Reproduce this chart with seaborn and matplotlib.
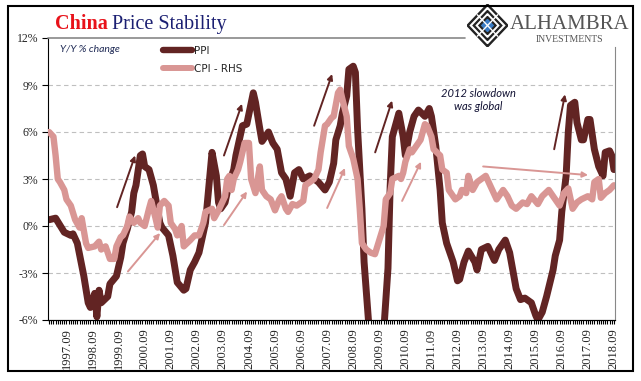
import matplotlib
matplotlib.use("Agg")
import matplotlib.pyplot as plt
from matplotlib.lines import Line2D
from matplotlib.patches import Rectangle, Polygon
from matplotlib.ticker import FixedLocator
import seaborn as sns

# months counted from 1997-01 (0) to 2018-09 (260), values in Y/Y %
ppi_month = [0, 3, 7, 10, 11, 13, 16, 18, 19, 21, 22, 23, 24, 27, 28, 31, 33, 34, 36, 38,
             39, 40, 42, 43, 44, 46, 48, 51, 52, 55, 57, 59, 62, 63, 65, 67, 69, 72, 74, 75,
             77, 78, 79, 81, 83, 85, 86, 89, 91, 94, 95, 97, 98, 101, 103, 105, 107, 109, 111, 113,
             115, 117, 120, 122, 124, 127, 129, 131, 132, 134, 135, 137, 138, 140, 141, 142, 144, 145, 147, 150,
             152, 154, 156, 157, 158, 161, 163, 164, 166, 168, 170, 173, 175, 176, 178, 180, 181, 183, 186, 188,
             189, 191, 193, 196, 197, 199, 202, 205, 207, 210, 212, 215, 217, 219, 222, 224, 225, 227, 229, 232,
             233, 235, 236, 238, 239, 240, 242, 243, 245, 246, 248, 249, 251, 253, 255, 256, 258, 259, 260]
ppi_value = [0.4, 0.5, -0.4, -0.6, -0.5, -1.1, -3.2, -4.9, -5.2, -4.3, -5.8, -4.1, -4.9, -4.5, -3.7, -3.2, -2.0, -1.1, -0.2, 0.9,
             2.1, 2.6, 4.5, 4.6, 3.8, 3.6, 2.6, 0.2, -0.1, -0.6, -1.9, -3.6, -4.1, -4.0, -2.8, -2.3, -1.7, 0.2, 3.2, 4.7,
             3.2, 1.5, 1.1, 1.5, 2.8, 3.6, 4.5, 6.4, 6.5, 8.5, 7.9, 6.2, 5.4, 6.0, 5.3, 4.9, 3.4, 3.0, 1.9, 3.4,
             3.6, 3.0, 3.2, 3.0, 2.8, 2.3, 2.8, 4.0, 5.5, 6.4, 7.2, 8.3, 10.0, 10.2, 9.8, 6.2, 1.1, -2.3, -6.0, -8.0,
             -7.8, -6.8, -2.7, 2.5, 5.7, 7.2, 5.7, 4.5, 6.0, 7.0, 7.4, 7.0, 7.5, 7.0, 5.1, 2.3, 0.2, -1.1, -2.3, -3.5,
             -3.4, -2.3, -1.6, -2.3, -2.8, -1.5, -1.3, -2.2, -1.5, -0.9, -1.7, -4.0, -4.7, -4.6, -4.9, -5.7, -6.0, -5.5, -4.5, -2.8,
             -1.9, -0.9, 0.9, 3.2, 6.0, 7.7, 7.9, 6.6, 5.5, 5.5, 6.8, 6.8, 4.9, 3.8, 3.2, 4.7, 4.8, 4.5, 3.6]

cpi_month = [0, 2, 3, 4, 5, 7, 8, 10, 12, 14, 15, 17, 18, 21, 23, 24, 26, 28, 30, 31,
             33, 34, 36, 37, 39, 41, 42, 44, 46, 47, 49, 50, 51, 53, 55, 56, 58, 59, 61, 62,
             65, 67, 69, 71, 72, 75, 76, 78, 79, 81, 82, 83, 84, 85, 87, 88, 90, 92, 93, 95,
             97, 98, 100, 102, 104, 106, 107, 109, 110, 112, 114, 117, 118, 120, 122, 124, 125, 127, 128, 130,
             131, 133, 134, 135, 137, 138, 140, 142, 143, 144, 146, 148, 150, 152, 154, 155, 157, 158, 161, 162,
             163, 164, 166, 167, 170, 171, 173, 174, 176, 177, 180, 181, 183, 184, 186, 187, 189, 190, 192, 193,
             195, 197, 199, 201, 203, 204, 206, 209, 211, 213, 215, 218, 220, 222, 225, 227, 230, 232, 235, 237,
             239, 241, 243, 245, 248, 250, 251, 253, 254, 256, 258, 260]
cpi_value = [6.0, 5.7, 4.5, 3.0, 2.8, 2.3, 1.7, 1.3, 0.4, -0.1, 0.5, -1.1, -1.4, -1.3, -1.0, -1.5, -1.3, -2.1, -2.1, -1.3,
             -0.7, -0.6, 0.0, 0.6, 0.2, 0.5, 0.2, 0.0, 1.1, 1.6, 0.5, -0.1, 1.3, 1.6, 1.3, 0.2, -0.2, -0.6, 0.0, -1.3,
             -0.9, -0.6, -0.6, 0.2, 0.9, 1.1, 0.5, 1.0, 1.3, 1.9, 3.0, 3.2, 2.3, 3.0, 3.6, 4.1, 5.3, 5.3, 3.0, 2.1,
             3.8, 2.3, 1.9, 1.7, 1.0, 1.7, 1.9, 1.1, 0.9, 1.4, 1.3, 1.6, 2.6, 2.8, 3.0, 3.6, 4.7, 6.4, 6.5, 6.9,
             7.0, 8.5, 8.7, 8.1, 7.0, 5.1, 4.3, 3.0, 1.1, -1.1, -1.5, -1.7, -1.8, -0.9, 0.0, 1.7, 2.1, 3.0, 3.2, 3.0,
             3.4, 4.1, 4.9, 4.7, 5.3, 5.5, 6.5, 6.4, 5.7, 4.9, 4.5, 3.6, 3.4, 2.3, 1.9, 1.7, 1.9, 2.3, 2.1, 3.2,
             2.3, 2.8, 3.0, 3.2, 2.6, 2.3, 1.7, 2.3, 1.9, 1.3, 1.1, 1.5, 1.4, 1.9, 1.4, 1.9, 2.3, 1.9, 1.3, 2.1,
             2.4, 1.1, 1.5, 1.7, 1.9, 1.7, 2.8, 3.0, 1.8, 2.1, 2.3, 2.6]

label_years = list(range(1997, 2019))
x_labels = [f"{y}.09" for y in label_years]
y_ticks = [12, 9, 6, 3, 0, -3, -6]

# annotation arrows: (start month, start value, end month, end value)
dark_arrows = [(31.3, 1.2, 39.6, 4.5), (80.5, 4.5, 88.8, 7.8), (122, 6.4, 130.3, 9.7),
               (150.1, 4.7, 157.9, 8.0), (232.5, 4.9, 237.5, 8.4)]
pink_arrows = [(36.3, -2.9, 51.1, -0.45), (80.5, 0.06, 91.1, 2.2), (128, 1.15, 136.2, 3.7),
               (162.5, 1.6, 171.2, 4.1), (199.8, 3.8, 248.1, 3.25)]

PPI_COLOR = "#622423"
CPI_COLOR = "#d99694"
W, H = 641, 381

sns.set_style("white")
serif = ["Liberation Serif", "DejaVu Serif"]

fig = plt.figure(figsize=(W / 100, H / 100), dpi=100)
ax = fig.add_axes([48 / W, 1 - 320 / H, 567 / W, 282 / H])
ax2 = ax.twinx()

sns.lineplot(x=ppi_month, y=ppi_value, ax=ax, color=PPI_COLOR, lw=5.0,
             solid_capstyle="round", solid_joinstyle="round")
sns.lineplot(x=cpi_month, y=cpi_value, ax=ax2, color=CPI_COLOR, lw=4.6,
             solid_capstyle="round", solid_joinstyle="round")

for a in (ax, ax2):
    a.set_xlim(-0.5, 260.5)
    a.set_ylim(-6, 12)
    a.set_xlabel("")
    a.set_ylabel("")

ax.set_yticks(y_ticks)
ax.set_yticklabels([f"{t}%" for t in y_ticks], family=serif, fontsize=8.5)
ax.set_xticks([(y - 1997) * 12 + 8 for y in label_years])
ax.set_xticklabels(x_labels, rotation=90, family=serif, fontsize=9)
ax.xaxis.set_minor_locator(FixedLocator(range(0, 261)))
ax.tick_params(axis="x", which="both", direction="out", length=3, width=0.8, color="black", pad=3, bottom=True)
ax.tick_params(axis="y", direction="out", length=4, width=0.8, color="black", pad=3, left=True)
ax2.set_yticks([])

ax.grid(axis="y", ls=(0, (4, 3)), color="#bfbfbf", lw=0.8)
for tick in ax.yaxis.get_major_ticks():
    if tick.get_loc() in (12, -6):
        tick.gridline.set_visible(False)

for a in (ax, ax2):
    a.spines["top"].set_visible(False)
    a.spines["left"].set_color("black")
    a.spines["bottom"].set_color("black")
ax.spines["right"].set_visible(False)
ax2.spines["left"].set_visible(False)
ax2.spines["right"].set_color("#888888")
ax2.spines["right"].set_bounds(-6, 11.4)

for x0, y0, x1, y1 in dark_arrows:
    ax2.annotate("", xy=(x1, y1), xytext=(x0, y0),
                 arrowprops=dict(arrowstyle="-|>", color=PPI_COLOR, lw=1.4, mutation_scale=8,
                                 shrinkA=0, shrinkB=0))
for x0, y0, x1, y1 in pink_arrows:
    ax2.annotate("", xy=(x1, y1), xytext=(x0, y0),
                 arrowprops=dict(arrowstyle="-|>", color=CPI_COLOR, lw=1.4, mutation_scale=8,
                                 shrinkA=0, shrinkB=0))

handles = [Line2D([], [], color=PPI_COLOR, lw=4.6), Line2D([], [], color=CPI_COLOR, lw=4.3)]
fig.legend(handles, ["PPI", "CPI - RHS"], loc="upper left", bbox_to_anchor=(163 / W, 1 - 46 / H),
           frameon=False, borderpad=0, borderaxespad=0, handlelength=2.8, handletextpad=0.15,
           labelspacing=0.75, prop={"family": "DejaVu Sans", "size": 7.5})

fig.text(60 / W, 1 - 50 / H, "Y/Y % change", style="italic", family=["Lato", "DejaVu Sans"],
         fontsize=7.5, color="#1f2a55", va="center")
fig.text(478 / W, 1 - 100 / H, "2012 slowdown\nwas global", style="italic",
         family=["Lato", "DejaVu Sans"], fontsize=8, color="#111133", ha="center", va="center",
         linespacing=1.3)

# title
t1 = fig.text(55 / W, 1 - 29 / H, "China", family=serif, fontsize=14.5, fontweight="bold",
              color="#e8121a", va="baseline")
renderer = fig.canvas.get_renderer()
bb = t1.get_window_extent(renderer=renderer)
fig.text(bb.x1 / W + 4 / W, 1 - 29 / H, "Price Stability", family=serif, fontsize=14.5,
         color="#1b1f72", va="baseline")

# top rule and outer frame
fig.add_artist(Line2D([48 / W, 465 / W], [1 - 38 / H, 1 - 38 / H], color="#888888", lw=1.2))
fig.add_artist(Rectangle((8 / W, 1 - 371 / H), 625 / W, 365 / H, fill=False,
                         edgecolor="black", lw=1.5))

# logo
logo = fig.add_axes([467 / W, 1 - 47 / H, 41 / W, 43 / H])
logo.set_xlim(-1, 1)
logo.set_ylim(-1, 1)
logo.axis("off")
for r, c in [(1.0, "#222222"), (0.84, "white"), (0.7, "#222222"), (0.55, "white"),
             (0.42, "#222222"), (0.28, "#3b7cc4")]:
    logo.add_patch(Polygon([(0, r), (r, 0), (0, -r), (-r, 0)], closed=True, color=c))
logo.plot([-0.5, 0.5], [0.5, -0.5], color="white", lw=1)
logo.plot([-0.5, 0.5], [-0.5, 0.5], color="white", lw=1)
fig.text(510 / W, 1 - 29 / H, "ALHAMBRA", family=serif, fontsize=15, color="#555555", va="baseline")
fig.text(569 / W, 1 - 40 / H, "INVESTMENTS", family=serif, fontsize=7, color="#555555",
         ha="center", va="center")

fig.savefig("out.png", dpi=100)
